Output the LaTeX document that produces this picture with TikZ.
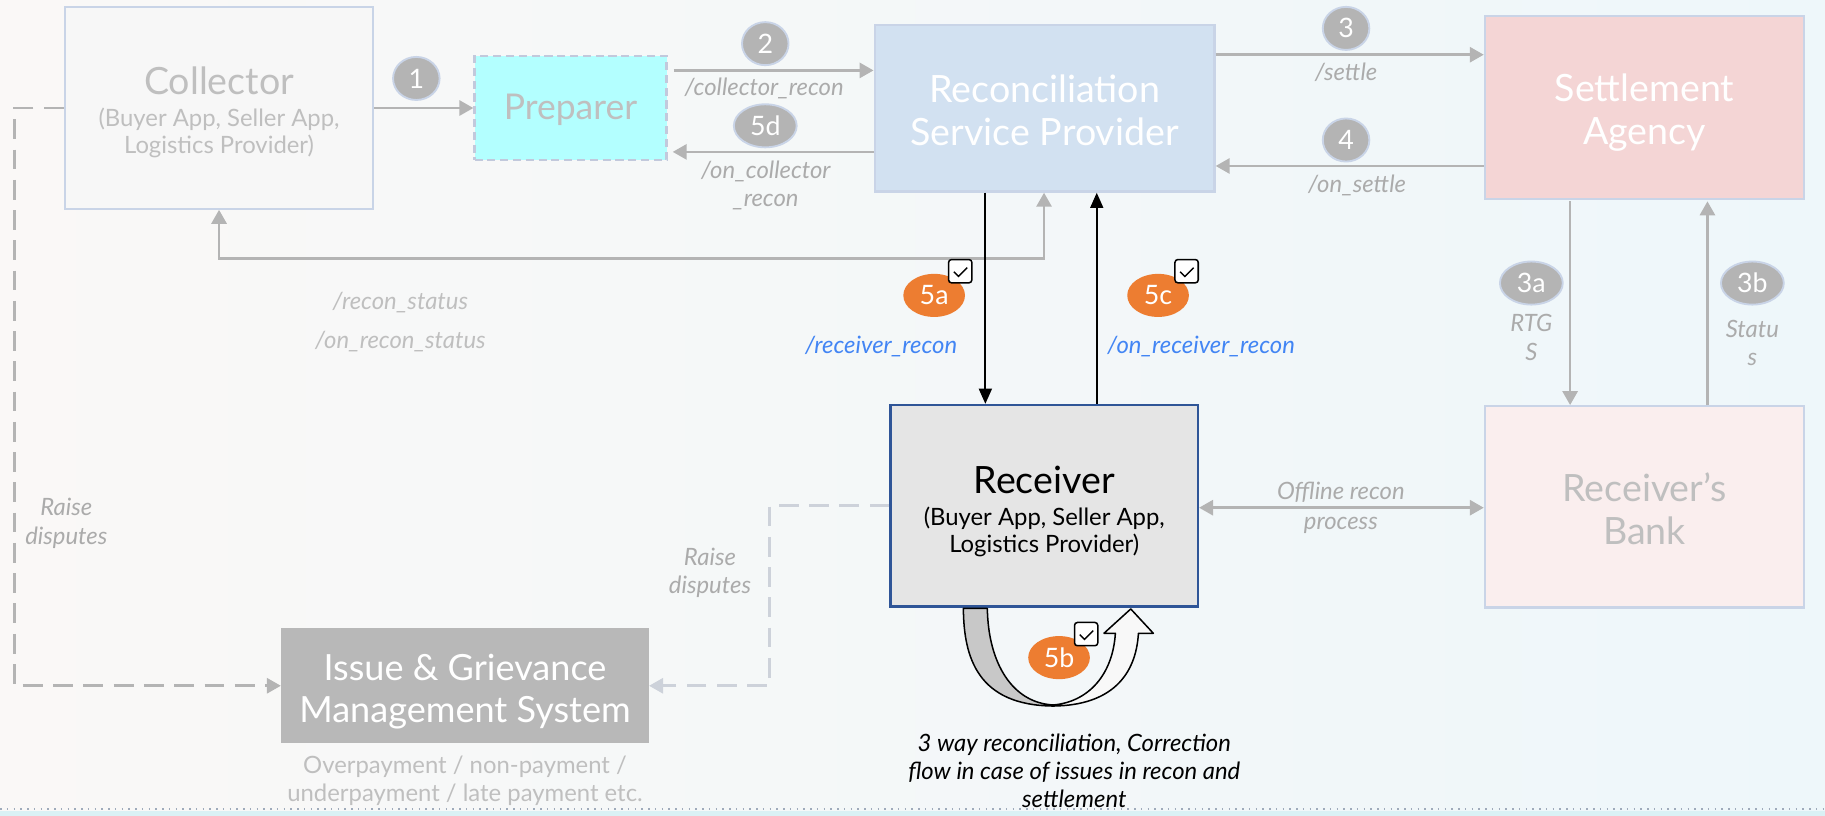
\documentclass[tikz,border=0pt]{standalone}
\usepackage{fontspec}
\setmainfont{Lato}
\usetikzlibrary{arrows.meta,shapes.geometric}
\definecolor{bgL}{HTML}{FAF8F7}
\definecolor{bgR}{HTML}{EEF7FA}
\definecolor{bandc}{HTML}{DAF1F5}
\definecolor{dotc}{HTML}{9FABBB}
\definecolor{boxborder}{HTML}{C9D4E7}
\definecolor{gtext}{HTML}{BFBFBF}
\definecolor{ltext}{HTML}{ABABAB}
\definecolor{garrow}{HTML}{B4B4B4}
\definecolor{collfill}{HTML}{F7F7F7}
\definecolor{prepfill}{HTML}{B3FFFF}
\definecolor{prepborder}{HTML}{C2C9DC}
\definecolor{rspfill}{HTML}{D2E1F1}
\definecolor{setfill}{HTML}{F4D5D5}
\definecolor{bankfill}{HTML}{FAEEEE}
\definecolor{recfill}{HTML}{E5E5E5}
\definecolor{recborder}{HTML}{2F5597}
\definecolor{igmsfill}{HTML}{B8B8B8}
\definecolor{orangeb}{HTML}{ED7D31}
\definecolor{blabel}{HTML}{4285F4}
\definecolor{ldash}{HTML}{CDD2DA}
\definecolor{ugrey}{HTML}{C8C8C8}
\definecolor{uwhite}{HTML}{F8F8F8}
\begin{document}
\begin{tikzpicture}[x=1pt,y=-1pt,
  box/.style={draw=boxborder, line width=2pt, inner sep=0pt},
  big/.style={font=\fontsize{32.3}{37}\selectfont, align=center, inner sep=0pt},
  subt/.style={font=\fontsize{20.5}{23}\selectfont, align=center, inner sep=0pt},
  lbl/.style={font=\fontsize{20.5}{24.5}\selectfont\itshape, text=ltext, align=center, inner sep=0pt},
  gbadge/.style={ellipse, fill=garrow, draw=boxborder, line width=1.6pt, text=white, font=\fontsize{23}{23}\selectfont, inner sep=0pt, minimum width=40pt, minimum height=37pt},
  gbadgew/.style={gbadge, minimum width=54pt},
  obadge/.style={ellipse, fill=orangeb, text=white, font=\fontsize{23}{23}\selectfont, inner sep=0pt, minimum width=53pt, minimum height=37pt},
  chkbox/.style={draw=black, line width=1.3pt, fill=white, rounded corners=2.5pt, minimum width=20pt, minimum height=20pt, inner sep=0pt},
  chkmark/.style={draw=black, line width=1.2pt},
  garr/.style={draw=garrow, line width=2.2pt, -{Triangle[length=12pt,width=13pt]}},
  garrb/.style={draw=garrow, line width=2.2pt, {Triangle[length=12pt,width=13pt]}-{Triangle[length=12pt,width=13pt]}},
  barr/.style={draw=black, line width=1.8pt, -{Triangle[length=13pt,width=11pt]}},
  gdash/.style={draw=garrow, line width=2.2pt, dash pattern=on 17pt off 9pt, -{Triangle[length=12pt,width=13pt]}},
  ldashs/.style={draw=ldash, line width=2.2pt, dash pattern=on 17pt off 9pt, -{Triangle[length=12pt,width=13pt]}},
  uband/.style={draw=black, line width=1.3pt, line join=round}
]
\useasboundingbox (0,0) rectangle (1568,701);
\shade[left color=bgL, right color=bgR] (0,0) rectangle (1568,701);
\fill[bandc] (0,697) rectangle (1568,701);
\draw[dotc, line width=1.3pt, dash pattern=on 1.3pt off 4.5pt] (0,695) -- (1568,695);

% boxes
\node[box, fill=collfill, minimum width=265pt, minimum height=173pt] (collector) at (188.2,92.8) {};
\node[box, fill=prepfill, draw=prepborder, dash pattern=on 7pt off 4pt, minimum width=165pt, minimum height=89pt] (preparer) at (490.2,92.8) {};
\node[box, fill=rspfill, minimum width=292pt, minimum height=143pt] (rsp) at (897.5,93.1) {};
\node[box, fill=setfill, minimum width=274pt, minimum height=157pt] (setagency) at (1412.8,92.5) {};
\node[box, fill=recfill, draw=recborder, minimum width=264pt, minimum height=173pt] (receiver) at (897.2,434.5) {};
\node[box, fill=bankfill, minimum width=274pt, minimum height=173pt] (bank) at (1412.8,435.5) {};
\node[fill=igmsfill, inner sep=0pt, minimum width=316pt, minimum height=99pt] (igms) at (399.5,589.2) {};

% box texts
\node[big, text=gtext] (collT) at (188.2,69.5) {Collector};
\node[subt, text=gtext] (collS) at (188.2,114) {(Buyer App, Seller App,\\Logistics Provider)};
\node[big, font=\fontsize{30.5}{35}\selectfont, text=gtext] (prepT) at (490.2,94.5) {Preparer};
\node[big, text=white] (rspT) at (897.5,94.5) {Reconciliation\\Service Provider};
\node[big, text=white] (setT) at (1413,96.5) {Settlement\\Agency};
\node[big, text=black] (recT) at (897.2,412.4) {Receiver};
\node[subt, text=black] (recS) at (897.2,457) {(Buyer App, Seller App,\\Logistics Provider)};
\node[big, text=gtext] (bankT) at (1413,437) {Receiver’s\\Bank};
\node[big, font=\fontsize{31}{36}\selectfont, text=white] (igmsT) at (399.5,594) {Issue \& Grievance\\Management System};
\node[subt, font=\fontsize{20.5}{24.3}\selectfont, text=gtext] (igmsB) at (399.5,670.5) {Overpayment / non-payment /\\underpayment / late payment etc.};

% coordinates
\coordinate (a2s) at (579,60.5);
\coordinate (a5de) at (578,130.5);
\coordinate (y3) at (0,47);
\coordinate (y4) at (0,142.6);
\coordinate (rs) at (897,222);
\coordinate (xd) at (846.6,0);
\coordinate (xu) at (942.3,0);
\coordinate (x3a) at (1349,173);
\coordinate (x3b) at (1467,173);
\coordinate (yrb) at (0,436.2);
\coordinate (ld) at (12.4,589.2);
\coordinate (rd) at (661,589.2);

% connectors
\draw[garr] (collector.east) -- (preparer.west);
\draw[garr] (a2s) -- (a2s -| rsp.west);
\draw[garr] (a5de -| rsp.west) -- (a5de);
\draw[garr] (rsp.east |- y3) -- (setagency.west |- y3);
\draw[garr] (setagency.west |- y4) -- (rsp.east |- y4);
\draw[garrb] (collector.south) -- (collector.south |- rs) -- (rs) -- (rs |- rsp.south);
\draw[barr] (xd |- rsp.south) -- (xd |- receiver.north);
\draw[barr] (xu |- receiver.north) -- (xu |- rsp.south);
\draw[garr] (x3a) -- (x3a |- bank.north);
\draw[garr] (x3b |- bank.north) -- (x3b);
\draw[garrb] (receiver.east |- yrb) -- (bank.west |- yrb);
\draw[gdash] (collector.west) -| (ld) -- (igms.west);
\draw[ldashs] (receiver.west) -| (rd) -- (igms.east);

% U-turn arrow
\path[uband, fill=uwhite] (905,606.6) .. controls (955,606) and (976,580) .. (978.1,544.1) -- (990.9,544.1) -- (971.5,523.2) -- (948.5,544.1) -- (958.3,544.1) .. controls (956,580) and (935,603) .. (905,605.7) -- cycle;
\path[uband, fill=ugrey] (827.7,522.7) .. controls (828,565) and (840,606) .. (905,606.6) -- (905,605.7) .. controls (870,604) and (849,570) .. (848.3,522.7) -- cycle;

% badges
\node[gbadge] (b1) at (357.7,67.4) {1};
\node[gbadge] (b2) at (657.5,37.5) {2};
\node[gbadgew] (b5d) at (657.5,108.1) {5d};
\node[gbadge] (b3) at (1156.5,24.4) {3};
\node[gbadge] (b4) at (1156.5,120.3) {4};
\node[gbadgew] (b3a) at (1315.7,243.2) {3a};
\node[gbadgew] (b3b) at (1505.6,243.2) {3b};
\node[obadge] (b5a) at (802.6,253.8) {5a};
\node[obadge] (b5c) at (995,253.8) {5c};
\node[obadge] (b5b) at (909.9,565) {5b};

% checkboxes
\node[chkbox] (c5a) at (825,233) {};
\node[chkbox] (c5c) at (1019.5,233) {};
\node[chkbox] (c5b) at (933.2,544.8) {};
\draw[chkmark] ([shift={(-5.5,0.5)}]c5a.center) -- ++(4,4) -- ++(7.5,-7.5);
\draw[chkmark] ([shift={(-5.5,0.5)}]c5c.center) -- ++(4,4) -- ++(7.5,-7.5);
\draw[chkmark] ([shift={(-5.5,0.5)}]c5b.center) -- ++(4,4) -- ++(7.5,-7.5);

% labels
\node[lbl] (l2) at (656.5,76) {/collector\_recon};
\node[lbl] (l5d) at (658,159.5) {/on\_collector\\\_recon};
\node[lbl] (l3) at (1156.5,62.4) {/settle};
\node[lbl] (l4) at (1166,159) {/on\_settle};
\node[lbl, text=gtext] (lrs1) at (344,260) {/recon\_status};
\node[lbl, text=gtext] (lrs2) at (344,293.6) {/on\_recon\_status};
\node[lbl, text=blabel] (l5a) at (757,298) {/receiver\_recon};
\node[lbl, text=blabel] (l5c) at (1032,298) {/on\_receiver\_recon};
\node[lbl] (l3a) at (1315.7,290) {RTG\\S};
\node[lbl] (l3b) at (1505.6,294.5) {Statu\\s};
\node[lbl, font=\fontsize{20.5}{25.7}\selectfont\itshape] (lrb) at (1152,436.5) {Offline recon\\process};
\node[lbl] (lrd1) at (57,449.5) {Raise\\disputes};
\node[lbl] (lrd2) at (610,492) {Raise\\disputes};
\node[lbl, font=\fontsize{20.5}{24}\selectfont\itshape, text=black] (cap) at (923,662) {3 way reconciliation, Correction\\flow in case of issues in recon and\\settlement};
\end{tikzpicture}
\end{document}
